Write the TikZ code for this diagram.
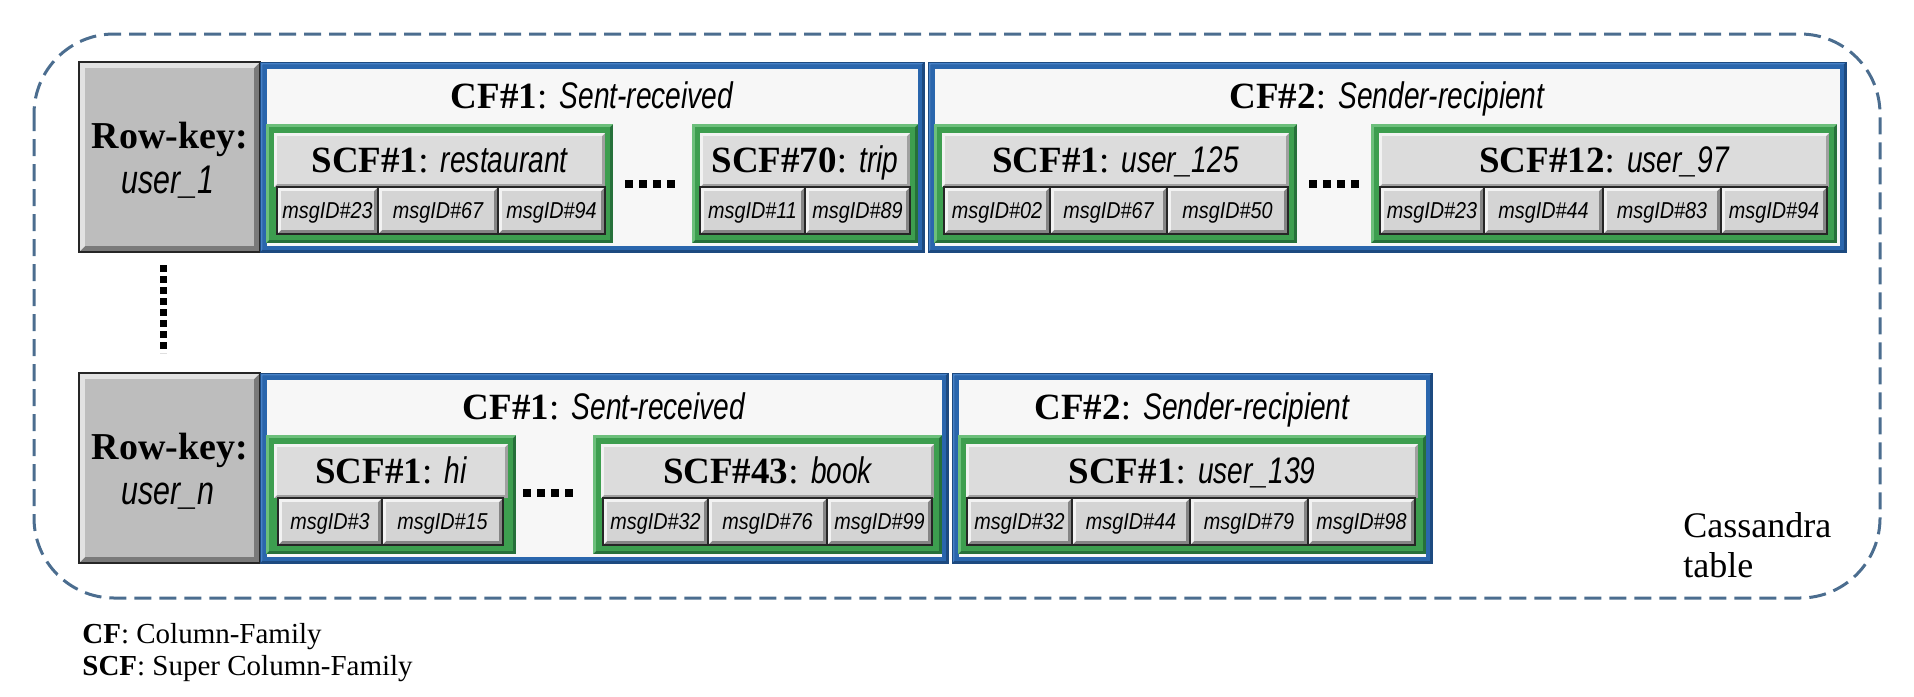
\documentclass[tikz,border=0pt]{standalone}
\usepackage{fontspec}
\setmainfont{Liberation Serif}
\newfontfamily\arnfam[FakeStretch=0.76]{Liberation Sans}
\newfontfamily\armfam[FakeStretch=0.86]{Liberation Sans}
\newcommand\vv[1]{{\arnfam\itshape #1}}
\newcommand\vm[1]{{\armfam\itshape #1}}
\definecolor{bluemid}{HTML}{2A66AD}
\definecolor{bluelight}{HTML}{4582CA}
\definecolor{bluedark}{HTML}{1D4A80}
\definecolor{greenmid}{HTML}{3D9E4F}
\definecolor{greenlight}{HTML}{6CBF7B}
\definecolor{greendark}{HTML}{26703A}
\definecolor{graymid}{HTML}{DCDCDC}
\definecolor{graylight}{HTML}{F2F2F2}
\definecolor{graydark}{HTML}{A0A0A0}
\definecolor{msgmid}{HTML}{D4D4D4}
\definecolor{msglight}{HTML}{F2F2F2}
\definecolor{msgdark}{HTML}{858585}
\definecolor{rkmid}{HTML}{BDBDBD}
\definecolor{rklight}{HTML}{E2E2E2}
\definecolor{rkdark}{HTML}{7A7A7A}
\definecolor{cfbg}{HTML}{F7F7F7}
\definecolor{dashC}{HTML}{4B6D8F}
% bevelled rectangle: x1 y1 x2 y2 d light mid dark
\newcommand\bev[8]{%
  \fill[#8] (#1,#2) rectangle (#3,#4);
  \fill[#6] (#1,#2) -- (#3,#2) -- ({#3-#5},{#2+#5}) -- ({#1+#5},{#2+#5}) -- ({#1+#5},{#4-#5}) -- (#1,#4) -- cycle;
  \fill[#7] ({#1+#5},{#2+#5}) rectangle ({#3-#5},{#4-#5});
}
% row key: top, name, value
\newcommand\rowkey[3]{%
  \bev{79}{#1}{260}{#1+190}{6}{rklight}{rkmid}{rkdark}
  \draw[black!85, line width=0.7pt] (79,#1) rectangle (260,{#1+190});
  \node[rktxt] (#2a) at (170,{#1+86}) {Row-key:};
  \node[rkval] (#2b) at (168,{#1+131}) {\vv{#3}};
}
% column family box: x1 x2 top name title
\newcommand\cfbox[5]{%
  \bev{#1}{#3}{#2}{#3+190}{2.5}{bluelight}{bluemid}{bluedark}
  \fill[cfbg] ({#1+6.5},{#3+6.5}) rectangle ({#2-6.5},{#3+183.5});
  \draw[bluedark, line width=0.5pt] (#1,#3) rectangle (#2,{#3+190});
  \node[ttl] (#4) at ({(#1+#2)/2},{#3+46}) {#5};
}
% super column family box: x1 x2 top name title
\newcommand\scfbox[5]{%
  \bev{#1}{#3+62}{#2}{#3+181}{3}{greenlight}{greenmid}{greendark}
  \bev{#1+8}{#3+71}{#2-8}{#3+125}{3}{graylight}{graymid}{graydark}
  \node[ttl] (#4) at ({(#1+#2)/2},{#3+110}) {#5};
}
% message id: x1 x2 top name text
\newcommand\msg[5]{%
  \bev{#1}{#3+125}{#2}{#3+172}{4}{msglight}{msgmid}{msgdark}
  \draw[black!85, line width=0.6pt] (#1,{#3+125}) rectangle (#2,{#3+172});
  \node[msgtxt] (#4) at ({(#1+#2)/2},{#3+156}) {\vm{msgID\##5}};
}
\tikzset{
  ttl/.style={anchor=base, inner sep=0pt, font=\fontsize{18.5}{20}\selectfont},
  rktxt/.style={anchor=base, inner sep=0pt, font=\fontsize{19}{21}\selectfont\bfseries},
  rkval/.style={anchor=base, inner sep=0pt, font=\fontsize{20}{22}\selectfont},
  msgtxt/.style={anchor=base, inner sep=0pt, font=\fontsize{11.5}{13}\selectfont},
  legend/.style={anchor=base west, inner sep=0pt, font=\fontsize{14.5}{16}\selectfont},
  captxt/.style={anchor=base west, inner sep=0pt, font=\fontsize{18}{20}\selectfont},
  hdots/.style={line width=4pt, dash pattern=on 4pt off 3pt},
  vdots/.style={line width=3.5pt, dash pattern=on 3.5pt off 2pt},
  border/.style={dashC, line width=1.5pt, dash pattern=on 8.5pt off 4pt, rounded corners=40pt}
}
\begin{document}
\begin{tikzpicture}[x=0.5pt, y=-0.5pt]
\useasboundingbox (0,0) rectangle (1914,696);
\draw[border] (34,34) rectangle (1880,598);

% ---------------- row 1 ----------------
\rowkey{62}{rk1}{user\_1}
\cfbox{260}{924}{62}{cfA}{\textbf{CF\#1}: \vv{Sent-received}}
\scfbox{266}{613}{62}{scfA}{\textbf{SCF\#1}: \vv{restaurant}}
\msg{277}{378}{62}{mA1}{23}
\msg{378}{498}{62}{mA2}{67}
\msg{498}{605}{62}{mA3}{94}
\coordinate (dA1) at (625,184); \coordinate (dA2) at (675,184);
\draw[hdots] (dA1) -- (dA2);
\scfbox{692}{918}{62}{scfB}{\textbf{SCF\#70}: \vv{trip}}
\msg{700}{805}{62}{mB1}{11}
\msg{805}{910}{62}{mB2}{89}

\cfbox{928}{1846}{62}{cfB}{\textbf{CF\#2}: \vv{Sender-recipient}}
\scfbox{934}{1297}{62}{scfC}{\textbf{SCF\#1}: \vv{user\_125}}
\msg{944}{1050}{62}{mC1}{02}
\msg{1050}{1167}{62}{mC2}{67}
\msg{1167}{1288}{62}{mC3}{50}
\coordinate (dB1) at (1309,184); \coordinate (dB2) at (1359,184);
\draw[hdots] (dB1) -- (dB2);
\scfbox{1371}{1837}{62}{scfD}{\textbf{SCF\#12}: \vv{user\_97}}
\msg{1380}{1484}{62}{mD1}{23}
\msg{1484}{1603}{62}{mD2}{44}
\msg{1603}{1721}{62}{mD3}{83}
\msg{1721}{1827}{62}{mD4}{94}

% vertical dots
\coordinate (v1) at (163,265); \coordinate (v2) at (163,353);
\draw[vdots] (v1) -- (v2);

% ---------------- row 2 ----------------
\rowkey{373}{rk2}{user\_n}
\cfbox{260}{948}{373}{cfC}{\textbf{CF\#1}: \vv{Sent-received}}
\scfbox{266}{516}{373}{scfE}{\textbf{SCF\#1}: \vv{hi}}
\msg{278}{382}{373}{mE1}{3}
\msg{382}{503}{373}{mE2}{15}
\coordinate (dC1) at (523,493); \coordinate (dC2) at (573,493);
\draw[hdots] (dC1) -- (dC2);
\scfbox{593}{942}{373}{scfF}{\textbf{SCF\#43}: \vv{book}}
\msg{603}{708}{373}{mF1}{32}
\msg{708}{827}{373}{mF2}{76}
\msg{827}{932}{373}{mF3}{99}

\cfbox{952}{1432}{373}{cfD}{\textbf{CF\#2}: \vv{Sender-recipient}}
\scfbox{958}{1426}{373}{scfG}{\textbf{SCF\#1}: \vv{user\_139}}
\msg{967}{1072}{373}{mG1}{32}
\msg{1072}{1190}{373}{mG2}{44}
\msg{1190}{1308}{373}{mG3}{79}
\msg{1308}{1415}{373}{mG4}{98}

% caption inside the table
\node[captxt] (cas1) at (1683,537) {Cassandra};
\node[captxt] (cas2) at (1683,577) {table};

% legend
\node[legend] (lg1) at (82,643) {\textbf{CF}: Column-Family};
\node[legend] (lg2) at (82,675) {\textbf{SCF}: Super Column-Family};
\end{tikzpicture}
\end{document}
